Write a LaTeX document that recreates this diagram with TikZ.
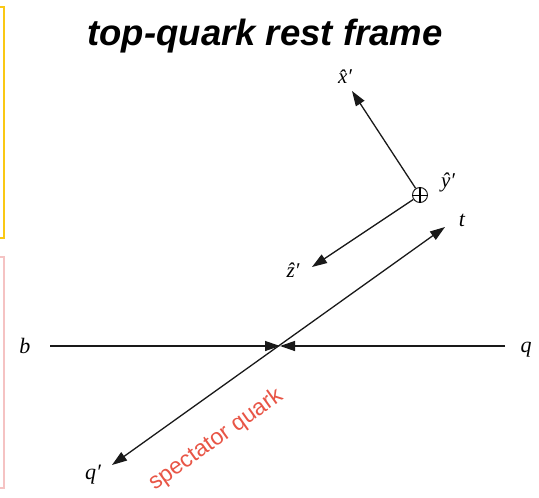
\documentclass[tikz,border=0pt]{standalone}
\usepackage{fontspec}
\setsansfont{Liberation Sans}
\newfontfamily\lserif{Liberation Serif}
\usetikzlibrary{arrows.meta}
\definecolor{frameyellow}{RGB}{250,200,20}
\definecolor{framepink}{RGB}{245,195,195}
\definecolor{specred}{RGB}{232,85,70}
\begin{document}
\begin{tikzpicture}[x=1pt,y=-1pt,
  axis/.style={line width=1.3pt, draw=black!90, -{Triangle[length=15pt,width=10pt]}},
  both/.style={line width=1.3pt, draw=black!90, {Triangle[length=15pt,width=10pt]}-{Triangle[length=15pt,width=10pt]}},
  lbl/.style={font=\lserif\itshape\fontsize{22}{24}\selectfont, inner sep=0pt},
  hlbl/.style={font=\lserif\itshape\fontsize{21}{23}\selectfont, inner sep=0pt},
]
\useasboundingbox (0,0) rectangle (539,498);
% frames at the left edge
\draw[frameyellow, line width=2pt] (-10,7) -- (4,7) -- (4,238) -- (-10,238);
\draw[framepink, line width=1.5pt] (-10,257) -- (4,257) -- (4,488) -- (-10,488);
% title
\node[anchor=base, inner sep=0pt, font=\sffamily\bfseries\itshape\fontsize{36.5}{38}\selectfont] (title) at (265,45) {top-quark rest frame};
% collision
\coordinate (X) at (280,346);
\coordinate (bstart) at (50,346);
\coordinate (qstart) at (505,346);
\node[lbl] (b) at (25,346) {b};
\node[lbl] (q) at (526,350) {q};
\draw[axis] (bstart) -- (X);
\draw[axis] (qstart) -- (X);
% top / spectator line
\coordinate (ttip) at (445,227);
\coordinate (qptip) at (112,465);
\draw[both] (qptip) -- (ttip);
\node[lbl] (t) at (462,220) {t};
\node[lbl] (qp) at (93,475) {q′};
\node[text=specred, font=\sffamily\fontsize{23}{25}\selectfont, rotate=35.5, inner sep=0pt] (spec) at (216,440) {spectator quark};
% frame axes
\node[draw=black!85, circle, line width=1pt, minimum size=15pt, inner sep=0pt] (y) at (420,195) {};
\draw[line width=0.8pt] (y.west) -- (y.east);
\draw[line width=1.3pt] (y.north) -- (y.south);
\coordinate (xtip) at (352,91);
\coordinate (ztip) at (312,267);
\draw[axis] (y) -- (xtip);
\draw[axis] (y) -- (ztip);
\node[hlbl] (xl) at (345,77) {\^{x}′};
\node[hlbl] (yl) at (448,182) {\^{y}′};
\node[hlbl] (zl) at (293,270) {\^{z}′};
\end{tikzpicture}
\end{document}
